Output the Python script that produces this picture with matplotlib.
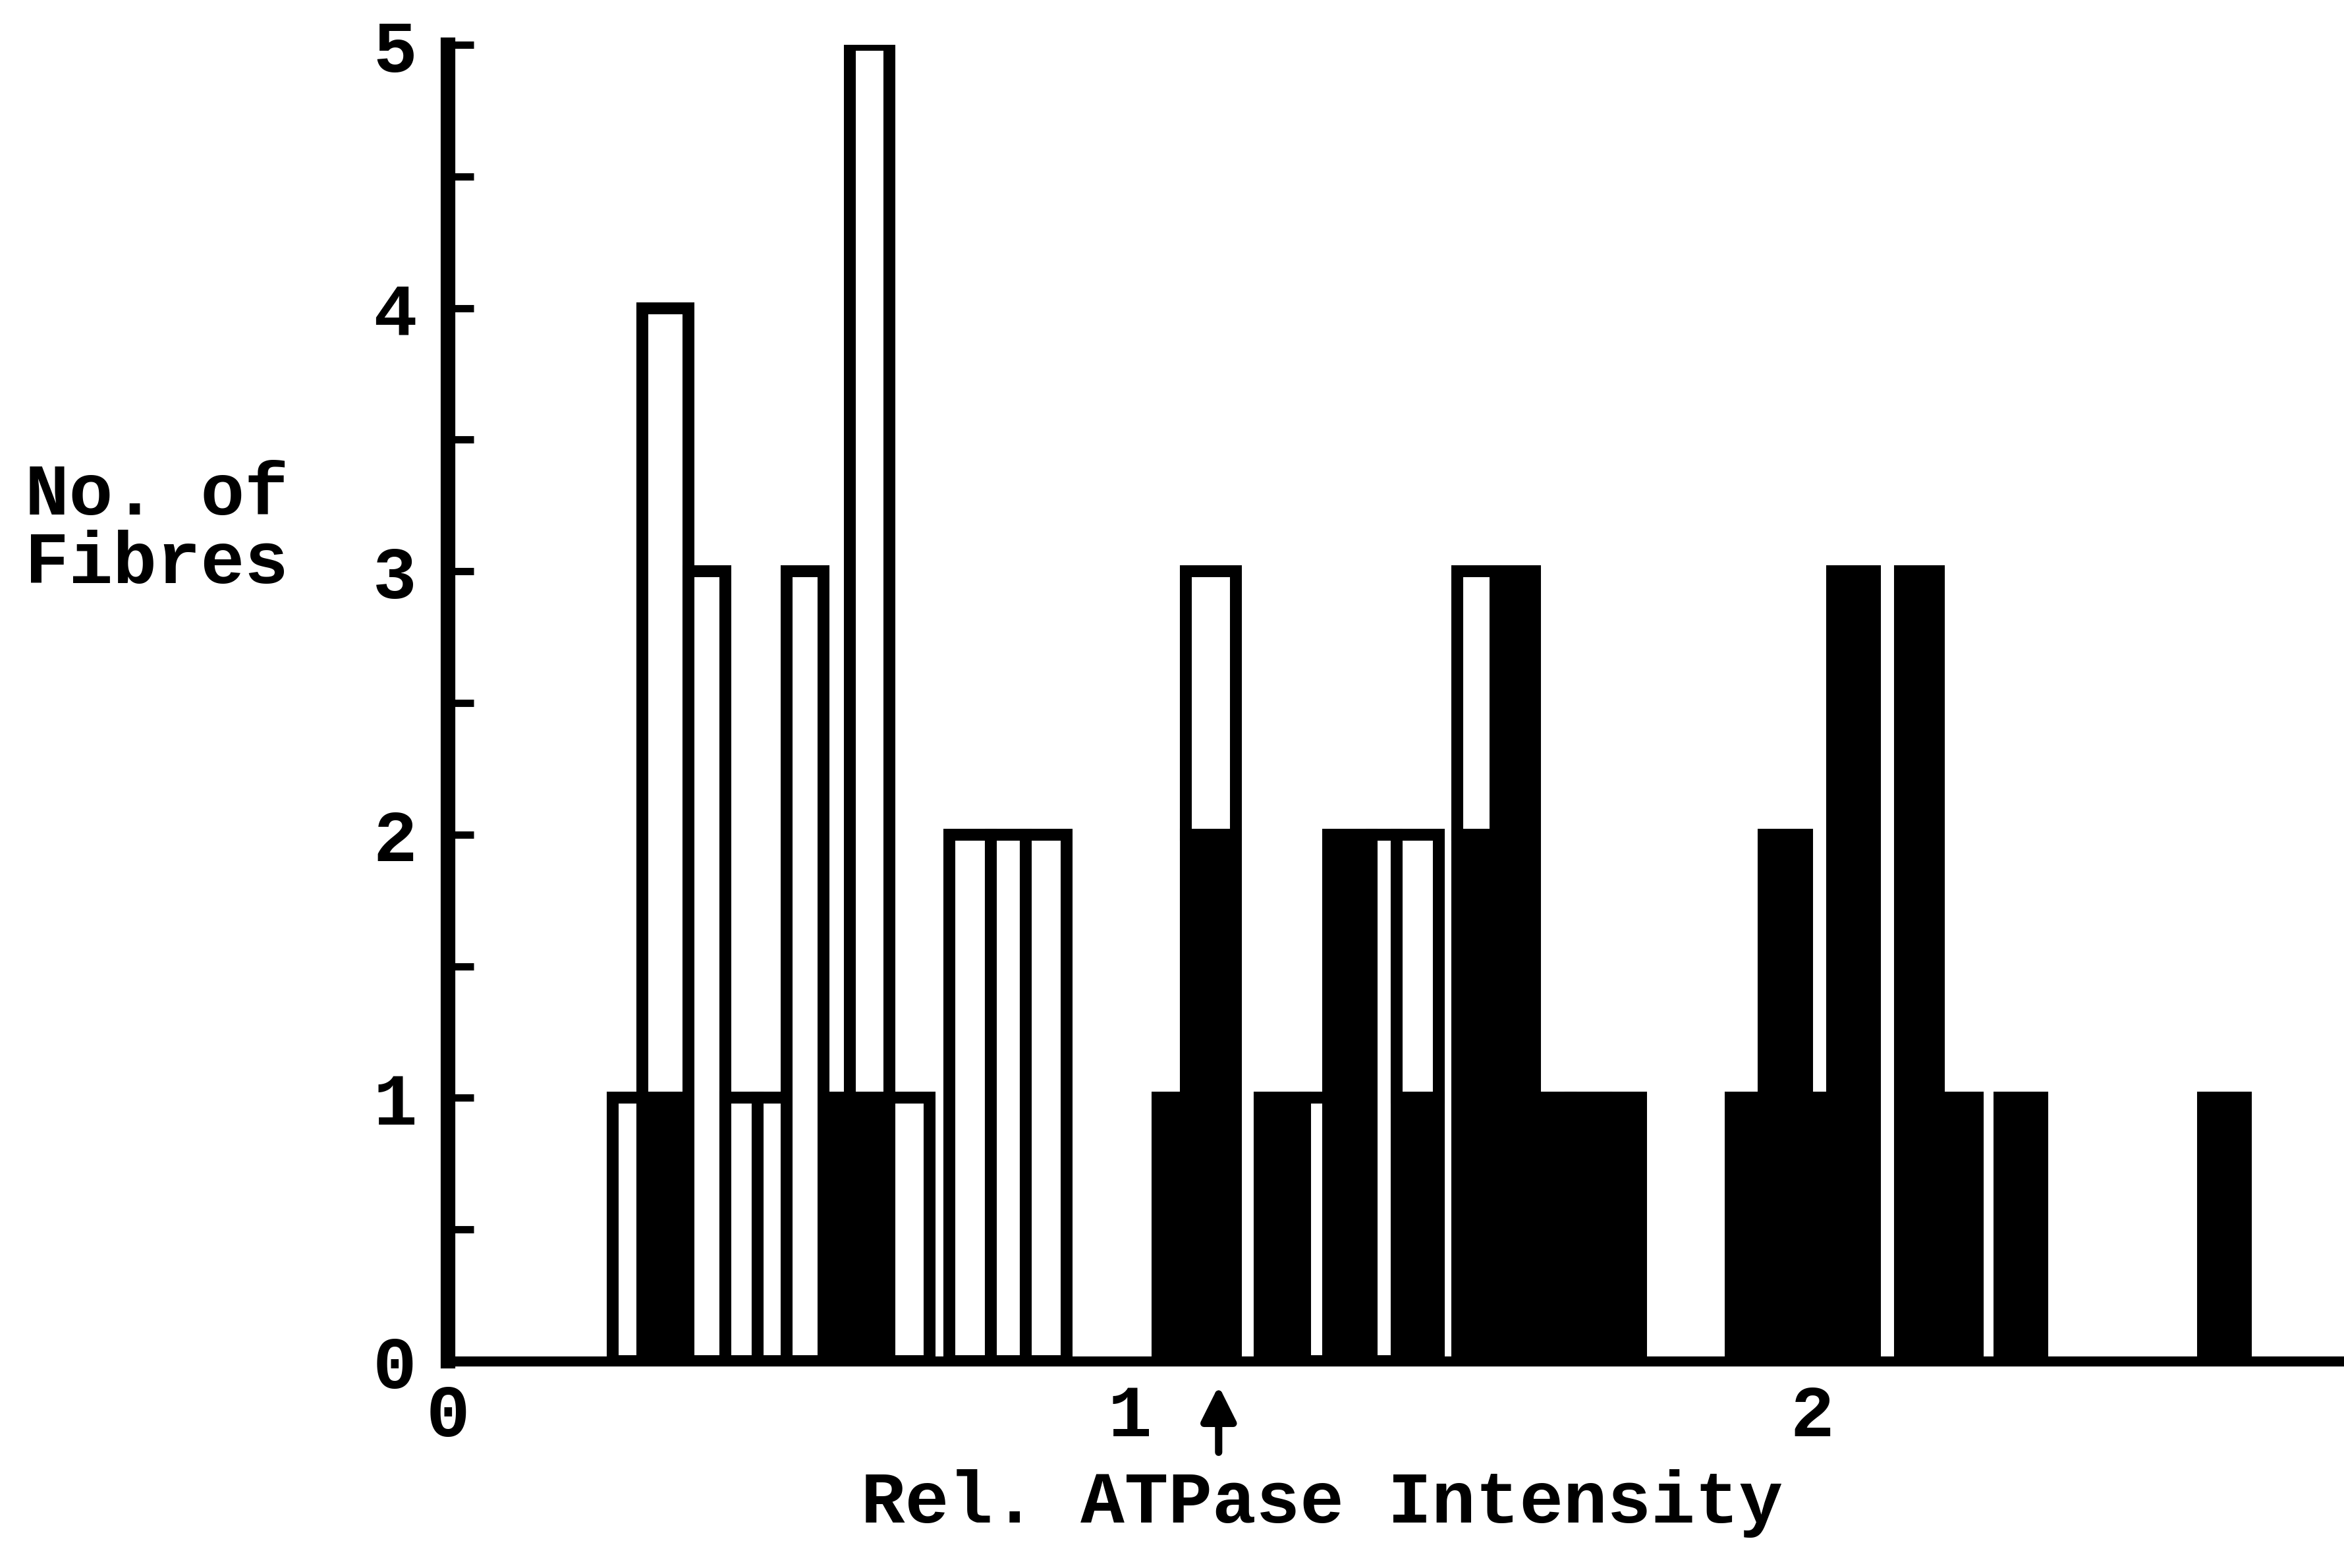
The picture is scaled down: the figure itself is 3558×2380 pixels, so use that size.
import numpy as np
import matplotlib
matplotlib.use('Agg')
import matplotlib.pyplot as plt

# histogram columns (x in Rel. ATPase Intensity units)
bin_left = [0.242, 0.285, 0.353, 0.407, 0.454, 0.497, 0.551, 0.589, 0.647,
            0.735, 0.796, 0.847,
            1.040, 1.082, 1.190, 1.257, 1.291, 1.354, 1.391,
            1.480, 1.536, 1.594, 1.646, 1.698,
            1.881, 1.929, 1.993, 2.029, 2.129, 2.186, 2.275, 2.573]
bin_right = [0.285, 0.353, 0.407, 0.454, 0.497, 0.551, 0.589, 0.647, 0.706,
             0.796, 0.847, 0.907,
             1.082, 1.155, 1.257, 1.291, 1.354, 1.391, 1.453,
             1.536, 1.594, 1.646, 1.698, 1.749,
             1.929, 1.993, 2.029, 2.092, 2.186, 2.243, 2.338, 2.636]
# black (filled) fibres, and open fibres stacked on top of them
filled_counts = [0, 1, 0, 0, 0, 0, 1, 1, 0,
                 0, 0, 0,
                 1, 2, 1, 0, 2, 0, 1,
                 2, 3, 1, 1, 1,
                 1, 2, 1, 3, 3, 1, 1, 1]
open_counts = [1, 3, 3, 1, 1, 3, 0, 4, 1,
               2, 2, 2,
               0, 1, 0, 1, 0, 2, 1,
               1, 0, 0, 0, 0,
               0, 0, 0, 0, 0, 0, 0, 0]

x_ticks = [0, 1, 2]
y_ticks = [0, 1, 2, 3, 4, 5]
y_half_ticks = [0.5, 1.5, 2.5, 3.5, 4.5]
arrow_x = 1.13

plt.rcParams['font.family'] = ['Liberation Mono', 'DejaVu Sans Mono']
plt.rcParams['font.weight'] = 'bold'
plt.rcParams['axes.labelweight'] = 'bold'
plt.rcParams['font.size'] = 40

fig = plt.figure(figsize=(17.79, 11.9), dpi=200)
ax = fig.add_axes([0.1911, 0.1319, 0.8089, 0.8395])

left = np.array(bin_left)
width = np.array(bin_right) - left
filled = np.array(filled_counts)
opened = np.array(open_counts)
lw = 6.5

m = filled > 0
ax.bar(left[m], filled[m], width=width[m], align='edge',
       color='black', edgecolor='black', linewidth=lw)
m = opened > 0
ax.bar(left[m], opened[m], width=width[m], bottom=filled[m], align='edge',
       color='white', edgecolor='black', linewidth=lw)

ax.set_xlim(0, 2.78)
ax.set_ylim(0, 5)

for s in ['top', 'right']:
    ax.spines[s].set_visible(False)
ax.spines['left'].set_linewidth(8)
ax.spines['bottom'].set_linewidth(5.5)
ax.spines['left'].set_zorder(5)
ax.spines['bottom'].set_zorder(5)

ax.set_yticks(y_ticks)
ax.set_yticks(y_half_ticks, minor=True)
ax.tick_params(axis='y', which='both', direction='in', length=14, width=4, pad=17)
ax.set_xticks(x_ticks)
ax.tick_params(axis='x', length=0, pad=12)

ax.set_xlabel('Rel. ATPase Intensity')
ax.xaxis.set_label_coords(0.461, -0.082)
fig.text(0.0107, 0.662, 'No. of\nFibres', ha='left', va='center', linespacing=1.0)

ax.annotate('', xy=(arrow_x, -0.08), xytext=(arrow_x, -0.36),
            arrowprops=dict(arrowstyle='-|>', color='black', lw=4, mutation_scale=40),
            annotation_clip=False)

fig.savefig('out.png', dpi=200)
